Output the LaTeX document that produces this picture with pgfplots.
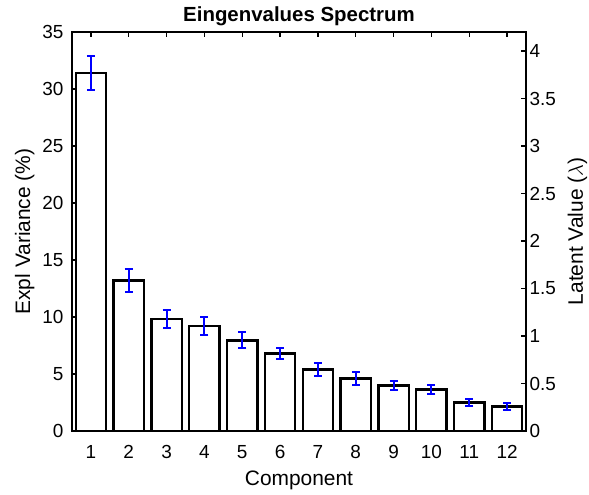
\documentclass[border=0pt]{standalone}
\usepackage{pgfplots}
\pgfplotsset{compat=1.18}
\usepackage{fontspec}
\setmainfont{Liberation Sans}
\pgfplotstableread{
x y e
1 31.4 1.5
2 13.2 1.0
3 9.85 0.8
4 9.2 0.8
5 7.95 0.7
6 6.8 0.5
7 5.4 0.55
8 4.6 0.55
9 4.0 0.38
10 3.65 0.4
11 2.5 0.33
12 2.15 0.28
}\spectrum
\begin{document}
\begin{tikzpicture}
\pgfplotsset{
  every axis/.append style={
    width=454bp, height=399bp, scale only axis,
    /pgf/number format/assume math mode=true,
    tick label style={font=\fontsize{19}{22}\selectfont},
    label style={font=\fontsize{21}{24}\selectfont},
    axis line style={line width=1.3bp},
    major tick length=5bp,
    tick style={line width=1.3bp, black},
    tick align=inside,
    xmin=0.5, xmax=12.5,
  }
}
\begin{axis}[
  ymin=0, ymax=35,
  xtick={1,...,12}, ytick={0,5,...,35},
  ytick pos=left, xtick pos=both, xticklabel pos=lower,
  xticklabel style={yshift=-11bp},
  yticklabel style={xshift=-5bp},
  title={Eingenvalues Spectrum},
  title style={font=\fontsize{20.5}{24}\selectfont\bfseries, yshift=-3bp},
  xlabel={Component}, ylabel={Expl Variance (\%)},
  xlabel style={yshift=-5bp},
  ylabel style={yshift=1bp},
]
\addplot[ybar, bar width=0.8, fill=white, draw=black, line width=2.3bp,
  error bars/.cd, y dir=both, y explicit,
  error bar style={blue, line width=1.9bp},
  error mark options={rotate=90, blue, mark size=4bp, line width=1.9bp}]
  table[x=x, y=y, y error=e] {\spectrum};
\coordinate (bl) at (rel axis cs:0,0);
\coordinate (tr) at (rel axis cs:1,1);
\end{axis}
\begin{axis}[
  ymin=0, ymax=4.2,
  axis y line*=right, axis x line=none,
  ytick={0,0.5,1,1.5,2,2.5,3,3.5,4},
  yticklabels={0,0.5,1,1.5,2,2.5,3,3.5,4},
  ylabel={Latent Value ($\lambda$)},
  ylabel style={yshift=-5bp},
]
\end{axis}
\pgfresetboundingbox
\path ([shift={(-72bp,-64bp)}]bl) rectangle ([shift={(63bp,32bp)}]tr);
\end{tikzpicture}
\end{document}
